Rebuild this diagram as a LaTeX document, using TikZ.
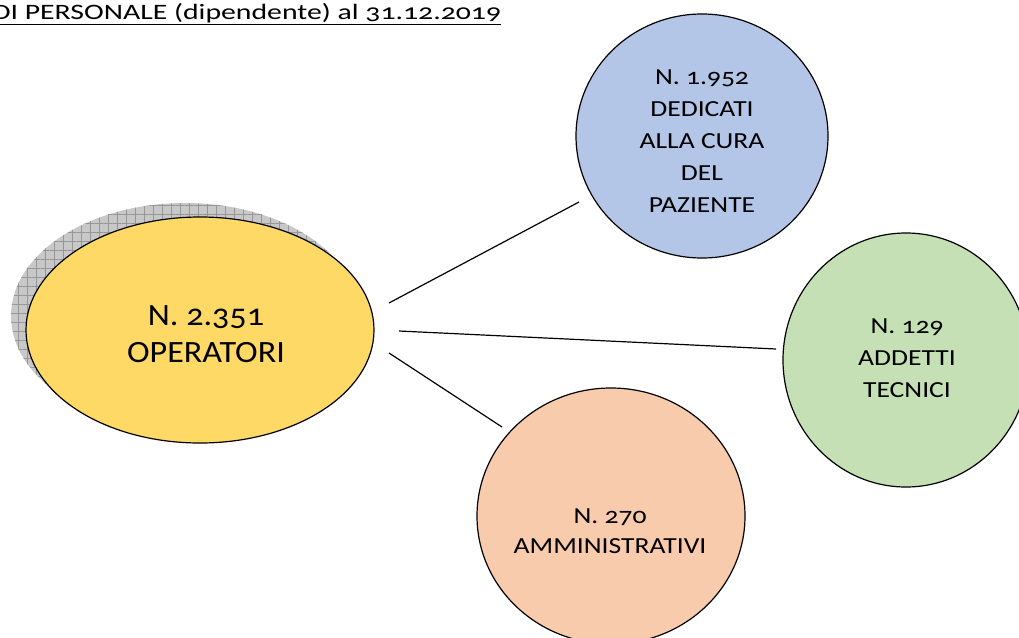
\documentclass[tikz,border=0pt]{standalone}
\usepackage{fontspec}
\setmainfont{Carlito}[Numbers=OldStyle]
\usetikzlibrary{patterns.meta,shapes.geometric}
\definecolor{yel}{RGB}{255,217,102}
\definecolor{blu}{RGB}{180,198,231}
\definecolor{grn}{RGB}{197,224,180}
\definecolor{org}{RGB}{248,203,173}
\definecolor{shd}{RGB}{200,200,200}
\definecolor{shdline}{RGB}{150,150,150}
\tikzset{
  bubble/.style={ellipse, draw=black, line width=1.2pt, inner sep=0pt},
  conn/.style={draw=black, line width=1.2pt},
  lbl/.style={align=center, inner sep=0pt, text=black, anchor=base, transform shape},
  shadowshape/.style={ellipse, minimum width=348pt, minimum height=226pt, inner sep=0pt},
}
\begin{document}
\begin{tikzpicture}[x=1pt,y=-1pt]
\useasboundingbox (0,0) rectangle (1019,637);
\begin{scope}
\clip (0,0) rectangle (1019,637);
% title
\begin{scope}[shift={(-8,19)}, xscale=1.353]
\node[anchor=base west, inner sep=0pt, transform shape, font=\fontsize{22}{26}\selectfont] (title) at (0,0) {\underline{DI PERSONALE (dipendente) al 31.12.2019}};
\end{scope}
% shadow
\node[shadowshape, fill=shd] (shadow) at (185,316) {};
\node[shadowshape, pattern={Lines[distance=9pt,angle=0,line width=0.5pt]}, pattern color=shdline] (shadowh) at (185,316) {};
\node[shadowshape, pattern={Lines[distance=9pt,angle=90,line width=0.5pt]}, pattern color=shdline] (shadowv) at (185,316) {};
% main bubbles
\node[bubble, fill=yel, minimum width=348pt, minimum height=226pt] (yelb) at (200,330) {};
\node[bubble, fill=blu, minimum width=252pt, minimum height=244pt] (blub) at (702,136) {};
\node[bubble, fill=grn, minimum width=246pt, minimum height=254pt] (grnb) at (906,360) {};
\node[bubble, fill=org, minimum width=268pt, minimum height=256pt] (orgb) at (611,516) {};
% texts
\begin{scope}[shift={(206,362)}, xscale=1.1]
\node[lbl, font=\fontsize{31}{37}\selectfont] (yelt) at (0,0) {N. 2.351\\OPERATORI};
\end{scope}
\begin{scope}[shift={(702,212)}, xscale=1.2]
\node[lbl, font=\fontsize{23}{32}\selectfont] (blut) at (0,0) {N. 1.952\\DEDICATI\\ALLA CURA\\DEL\\PAZIENTE};
\end{scope}
\begin{scope}[shift={(907,397)}, xscale=1.2]
\node[lbl, font=\fontsize{23}{32}\selectfont] (grnt) at (0,0) {N. 129\\ADDETTI\\TECNICI};
\end{scope}
\begin{scope}[shift={(610,553)}, xscale=1.2]
\node[lbl, font=\fontsize{23}{30}\selectfont] (orgt) at (0,0) {N. 270\\AMMINISTRATIVI};
\end{scope}
% connectors
\coordinate (a1) at (389,303);
\coordinate (b1) at (579,202);
\coordinate (a2) at (399,331);
\coordinate (b2) at (776,349);
\coordinate (a3) at (389,353);
\coordinate (b3) at (502,427);
\draw[conn] (a1) -- (b1);
\draw[conn] (a2) -- (b2);
\draw[conn] (a3) -- (b3);
\end{scope}
\end{tikzpicture}
\end{document}
